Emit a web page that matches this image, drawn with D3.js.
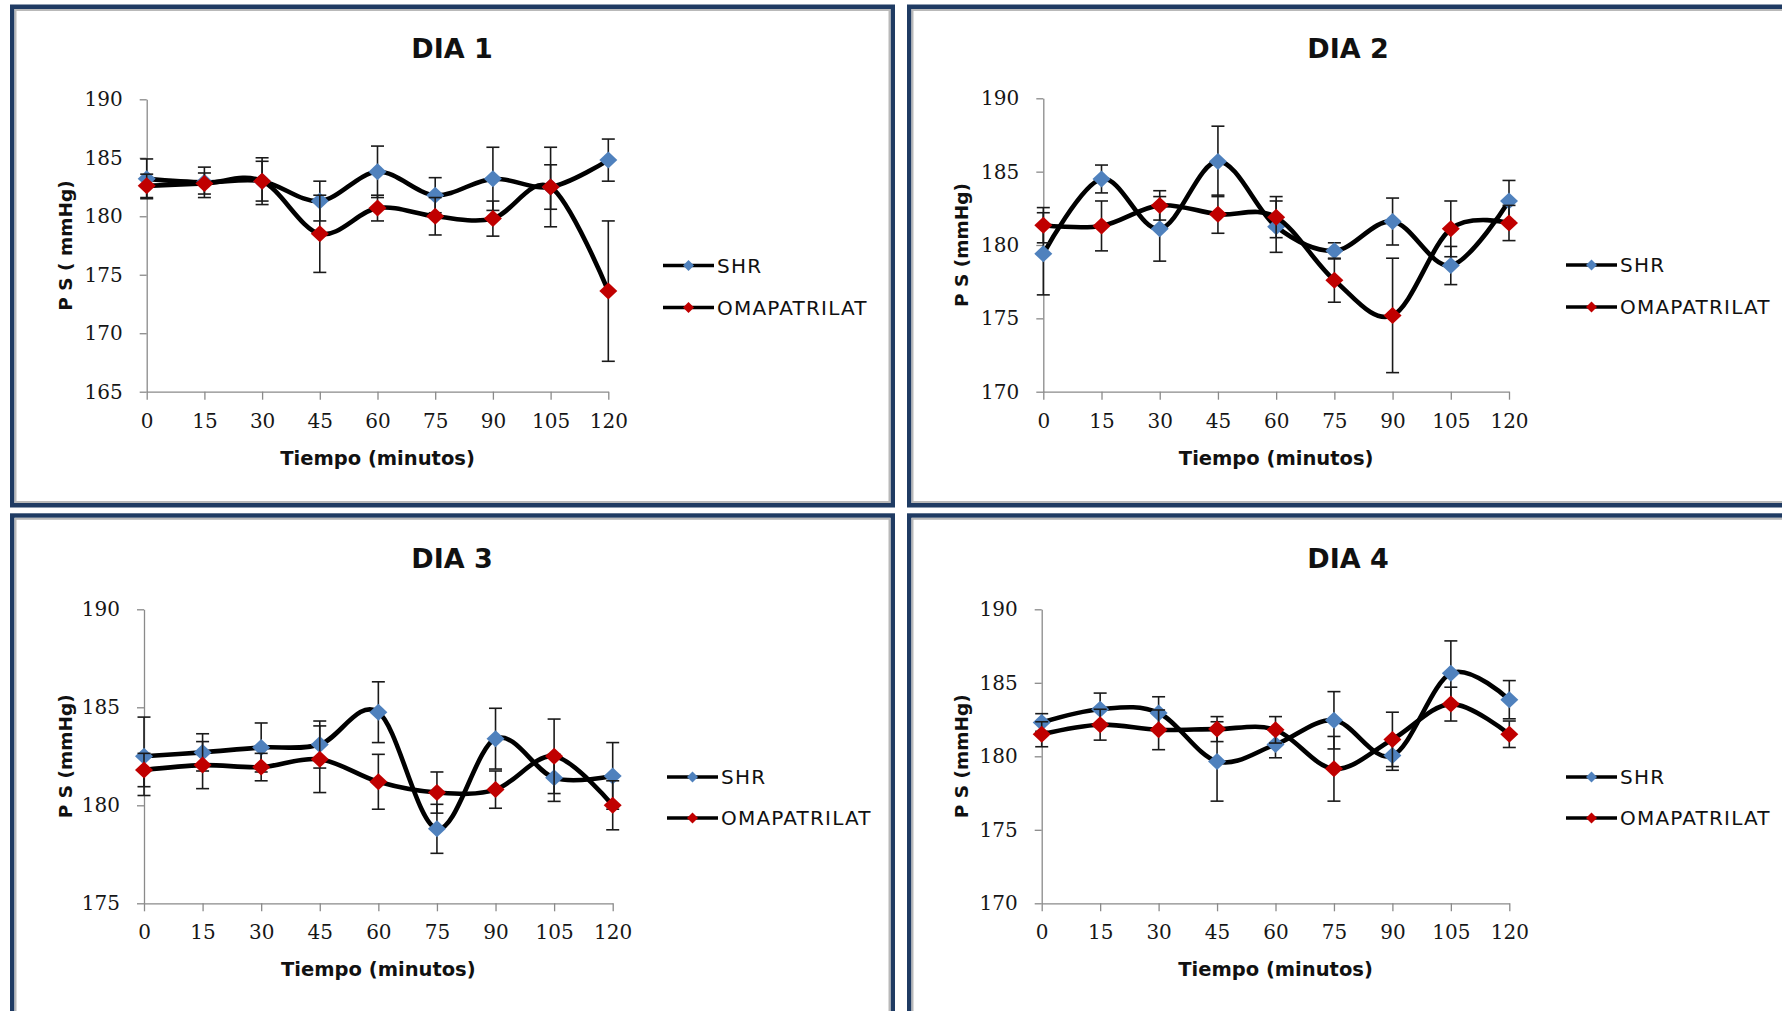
<!DOCTYPE html>
<html>
<head>
<meta charset="utf-8">
<script src="https://cdn.jsdelivr.net/npm/d3@7"></script>
<style>
  html, body { margin: 0; padding: 0; background: #ffffff; }
  svg { display: block; }
</style>
</head>
<body>
<svg id="chart" width="1782" height="1011"></svg>
<script>
// Time points (minutes) shared by all four days
const minutes = [0, 15, 30, 45, 60, 75, 90, 105, 120];
const seriesNames = ["SHR", "OMAPATRILAT"];

// Systolic pressure (mmHg), mean and error, per day
const shrDia1    = [183.2, 182.9, 183.0, 181.3, 183.8, 181.8, 183.2, 182.5, 184.8];
const shrErrDia1 = [1.7, 1.3, 1.7, 1.7, 2.2, 1.5, 2.7, 3.4, 1.8];
const omaDia1    = [182.6, 182.8, 183.0, 178.5, 180.7, 180.0, 179.8, 182.5, 173.6];
const omaErrDia1 = [1.0, 0.9, 2.0, 3.3, 1.1, 1.6, 1.5, 1.9, 6.0];

const shrDia2    = [179.4, 184.5, 181.1, 185.7, 181.25, 179.6, 181.6, 178.6, 183.0];
const shrErrDia2 = [2.8, 0.95, 2.2, 2.4, 1.75, 0.55, 1.6, 1.3, 1.4];
const omaDia2    = [181.35, 181.3, 182.7, 182.1, 181.9, 177.6, 175.2, 181.1, 181.5];
const omaErrDia2 = [1.2, 1.7, 1.0, 1.3, 1.4, 1.5, 3.9, 1.9, 1.2];

const shrDia3    = [182.5, 182.7, 182.95, 183.1, 184.75, 178.8, 183.4, 181.4, 181.5];
const shrErrDia3 = [2.0, 0.95, 1.25, 1.2, 1.55, 1.25, 1.55, 1.2, 1.7];
const omaDia3    = [181.8, 182.05, 181.95, 182.35, 181.2, 180.65, 180.8, 182.5, 180.0];
const omaErrDia3 = [0.85, 1.2, 0.7, 1.7, 1.4, 1.05, 0.95, 1.9, 1.25];

const shrDia4    = [182.3, 183.2, 182.95, 179.65, 180.8, 182.45, 180.05, 185.65, 183.85];
const shrErrDia4 = [0.6, 1.1, 1.1, 2.7, 0.9, 1.95, 1.0, 2.2, 1.3];
const omaDia4    = [181.5, 182.15, 181.8, 181.85, 181.8, 179.15, 181.15, 183.55, 181.5];
const omaErrDia4 = [0.85, 1.05, 1.35, 0.85, 0.9, 2.2, 1.85, 1.15, 0.9];

// Axis tick values
const xTicks = [0, 15, 30, 45, 60, 75, 90, 105, 120];
const yTicksDia1 = [165, 170, 175, 180, 185, 190];
const yTicksDia2 = [170, 175, 180, 185, 190];
const yTicksDia3 = [175, 180, 185, 190];
const yTicksDia4 = [170, 175, 180, 185, 190];

const xTitle = "Tiempo (minutos)";

// Panel layout
const panels = [
  { title: "DIA 1", yTitle: "P S ( mmHg)", yTicks: yTicksDia1,
    shr: shrDia1, shrErr: shrErrDia1, oma: omaDia1, omaErr: omaErrDia1,
    frame: { x: 10, y: 4.5, w: 885, h: 503 },
    plot: { left: 146.7, right: 608.3, top: 99.3, bottom: 391.7 },
    titleX: 452, titleY: 58, yTitleX: 65, legend: { x: 663, y: 265.5, gap: 42 } },
  { title: "DIA 2", yTitle: "P S (mmHg)", yTicks: yTicksDia2,
    shr: shrDia2, shrErr: shrErrDia2, oma: omaDia2, omaErr: omaErrDia2,
    frame: { x: 907, y: 4.5, w: 900, h: 503 },
    plot: { left: 1043.3, right: 1509, top: 98.3, bottom: 391.7 },
    titleX: 1348, titleY: 58, yTitleX: 961, legend: { x: 1566, y: 265, gap: 42 } },
  { title: "DIA 3", yTitle: "P S (mmHg)", yTicks: yTicksDia3,
    shr: shrDia3, shrErr: shrErrDia3, oma: omaDia3, omaErr: omaErrDia3,
    frame: { x: 10, y: 513.3, w: 885, h: 520 },
    plot: { left: 144, right: 612.7, top: 609.3, bottom: 903.3 },
    titleX: 452, titleY: 568, yTitleX: 65, legend: { x: 667, y: 777, gap: 41 } },
  { title: "DIA 4", yTitle: "P S (mmHg)", yTicks: yTicksDia4,
    shr: shrDia4, shrErr: shrErrDia4, oma: omaDia4, omaErr: omaErrDia4,
    frame: { x: 907, y: 513.3, w: 900, h: 520 },
    plot: { left: 1041.7, right: 1509.3, top: 609.3, bottom: 903.3 },
    titleX: 1348, titleY: 568, yTitleX: 961, legend: { x: 1566, y: 777, gap: 41 } }
];

const colors = { SHR: "#4f81bd", OMAPATRILAT: "#c00000" };
const navy = "#1f3b63";
const axisGrey = "#8a8a8a";
const sansFont = "'DejaVu Sans', sans-serif";
const serifFont = "'DejaVu Serif', serif";

const svg = d3.select("#chart");

function diamond(cx, cy, w, h) {
  return `M${cx},${cy - h}L${cx + w},${cy}L${cx},${cy + h}L${cx - w},${cy}Z`;
}

panels.forEach(p => {
  const g = svg.append("g");

  // Frame: navy outer border with a light grey inner rule
  const f = p.frame;
  g.append("rect")
    .attr("x", f.x + 2.25).attr("y", f.y + 2.25)
    .attr("width", f.w - 4.5).attr("height", f.h - 4.5)
    .attr("fill", "#ffffff").attr("stroke", navy).attr("stroke-width", 4.5);
  g.append("rect")
    .attr("x", f.x + 5.5).attr("y", f.y + 5.5)
    .attr("width", f.w - 11).attr("height", f.h - 11)
    .attr("fill", "none").attr("stroke", "#b9b9b9").attr("stroke-width", 2);

  const yDomain = d3.extent(p.yTicks);
  const x = d3.scaleLinear().domain(d3.extent(minutes)).range([p.plot.left, p.plot.right]);
  const y = d3.scaleLinear().domain(yDomain).range([p.plot.bottom, p.plot.top]);

  // Title
  g.append("text")
    .attr("x", p.titleX).attr("y", p.titleY)
    .attr("text-anchor", "middle")
    .attr("font-family", sansFont).attr("font-weight", "bold")
    .attr("font-size", 27).attr("fill", "#111")
    .text(p.title);

  // Axes
  const yAxis = d3.axisLeft(y).tickValues(p.yTicks).tickSize(7).tickSizeOuter(0).tickPadding(17)
    .tickFormat(d3.format("d"));
  const xAxis = d3.axisBottom(x).tickValues(xTicks).tickSize(8).tickSizeOuter(0).tickPadding(14)
    .tickFormat(d3.format("d"));

  const ya = g.append("g").attr("transform", `translate(${p.plot.left},0)`).call(yAxis);
  const xa = g.append("g").attr("transform", `translate(0,${p.plot.bottom})`).call(xAxis);
  [ya, xa].forEach(a => {
    a.select(".domain").attr("stroke", axisGrey).attr("stroke-width", 1.3);
    a.selectAll(".tick line").attr("stroke", axisGrey).attr("stroke-width", 1.3);
    a.selectAll(".tick text")
      .attr("font-family", serifFont).attr("font-size", 20).attr("fill", "#161616");
  });

  // Axis titles
  g.append("text")
    .attr("x", (p.plot.left + p.plot.right) / 2).attr("y", p.plot.bottom + 73)
    .attr("text-anchor", "middle")
    .attr("font-family", sansFont).attr("font-weight", "bold")
    .attr("font-size", 19.5).attr("fill", "#111")
    .text(xTitle);
  g.append("text")
    .attr("transform", `translate(${p.yTitleX},${(p.plot.top + p.plot.bottom) / 2}) rotate(-90)`)
    .attr("text-anchor", "middle").attr("dominant-baseline", "central")
    .attr("font-family", sansFont).attr("font-weight", "bold")
    .attr("font-size", 18.5).attr("fill", "#111")
    .text(p.yTitle);

  const line = d3.line()
    .x((d, i) => x(minutes[i]))
    .y(d => y(d))
    .curve(d3.curveCardinal.tension(0));

  const series = [
    { name: "SHR", values: p.shr, errors: p.shrErr },
    { name: "OMAPATRILAT", values: p.oma, errors: p.omaErr }
  ];

  series.forEach(s => {
    const sg = g.append("g");
    // Error bars
    const eb = sg.append("g").selectAll("g").data(s.values).join("g");
    eb.append("line")
      .attr("x1", (d, i) => x(minutes[i])).attr("x2", (d, i) => x(minutes[i]))
      .attr("y1", (d, i) => y(d + s.errors[i])).attr("y2", (d, i) => y(d - s.errors[i]))
      .attr("stroke", "#1a1a1a").attr("stroke-width", 1.6);
    [1, -1].forEach(sign => {
      eb.append("line")
        .attr("x1", (d, i) => x(minutes[i]) - 6.5).attr("x2", (d, i) => x(minutes[i]) + 6.5)
        .attr("y1", (d, i) => y(d + sign * s.errors[i])).attr("y2", (d, i) => y(d + sign * s.errors[i]))
        .attr("stroke", "#1a1a1a").attr("stroke-width", 1.6);
    });
    // Smoothed line
    sg.append("path")
      .attr("d", line(s.values))
      .attr("fill", "none").attr("stroke", "#000").attr("stroke-width", 4.6)
      .attr("stroke-linejoin", "round");
    // Diamond markers
    sg.append("g").selectAll("path").data(s.values).join("path")
      .attr("d", (d, i) => diamond(x(minutes[i]), y(d), 9, 8.5))
      .attr("fill", colors[s.name]);
  });

  // Legend
  seriesNames.forEach((name, k) => {
    const ly = p.legend.y + k * p.legend.gap;
    const lx = p.legend.x;
    g.append("line")
      .attr("x1", lx).attr("x2", lx + 51).attr("y1", ly).attr("y2", ly)
      .attr("stroke", "#000").attr("stroke-width", 3.5);
    g.append("path").attr("d", diamond(lx + 25.5, ly, 5.5, 5.5)).attr("fill", colors[name]);
    g.append("text")
      .attr("x", lx + 54).attr("y", ly).attr("dominant-baseline", "central")
      .attr("font-family", sansFont).attr("font-size", 20).attr("letter-spacing", 1.2)
      .attr("fill", "#111")
      .text(name);
  });
});
</script>
</body>
</html>
